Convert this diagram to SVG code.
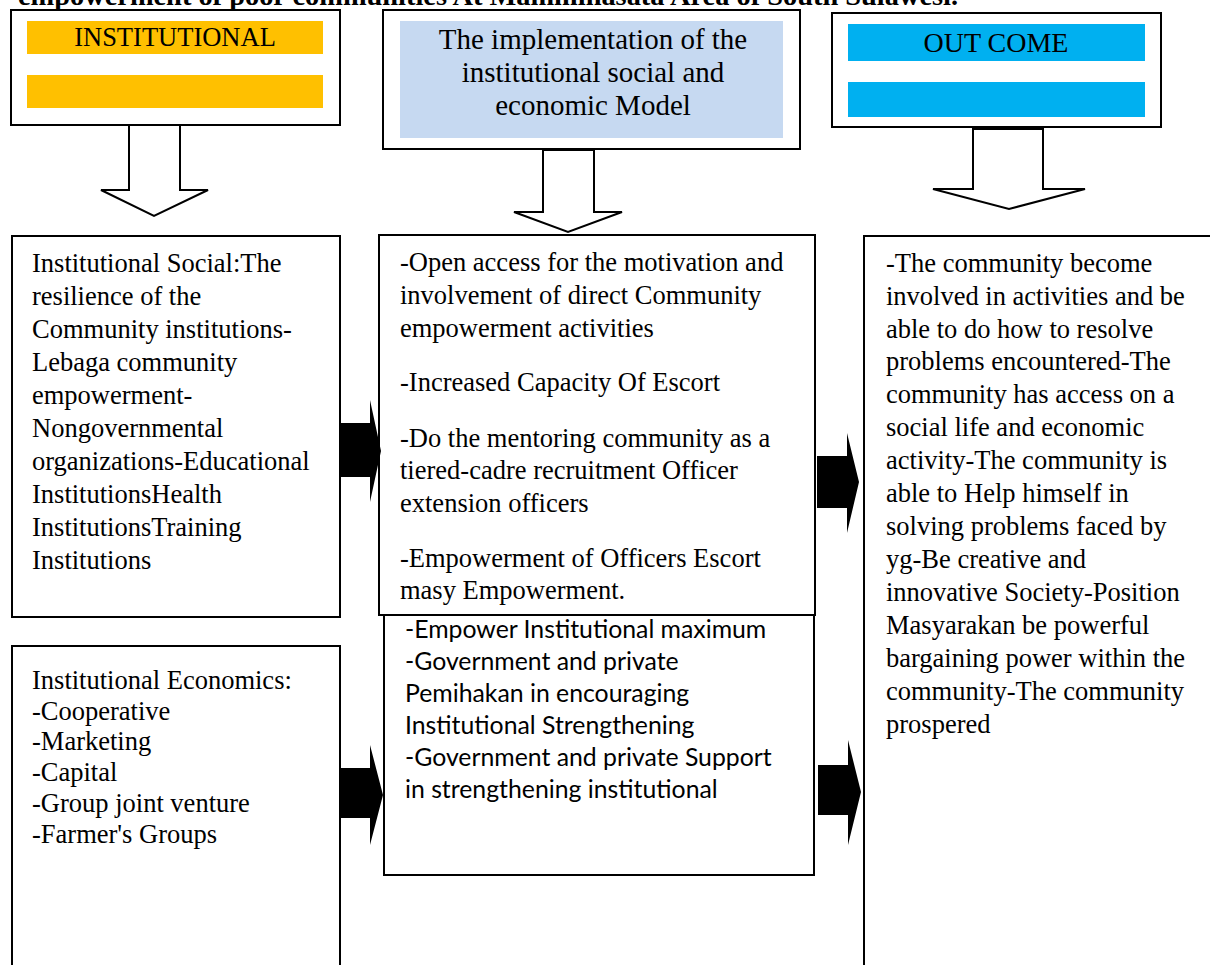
<svg xmlns="http://www.w3.org/2000/svg" width="1210" height="965" viewBox="0 0 1210 965">
<style>
.box{fill:#fff;stroke:#000;stroke-width:2}
.t{font-family:"Liberation Serif","Times New Roman",serif;font-size:26.5px;fill:#000}
.h{font-family:"Liberation Serif","Times New Roman",serif;font-size:29px;fill:#000;text-anchor:middle}
.c{font-family:Lato,"Open Sans",sans-serif;font-size:24.8px;fill:#000}
.hollow{fill:#fff;stroke:#000;stroke-width:2;stroke-linejoin:miter}
.solid{fill:#000;stroke:none}
</style>
<rect width="1210" height="965" fill="#fff"/>
<text x="18" y="5" font-family="'Liberation Serif','Times New Roman',serif" font-weight="bold" font-size="28" textLength="940" lengthAdjust="spacingAndGlyphs">empowerment of poor communities At Mamminasata Area of South Sulawesi.</text>

<g id="institutional">
<rect class="box" x="11" y="10" width="329" height="115"/>
<rect x="27" y="21" width="296" height="33" fill="#FFC000"/>
<rect x="27" y="75" width="296" height="33" fill="#FFC000"/>
<text class="h" x="175" y="46" style="font-size:26.5px">INSTITUTIONAL</text>
</g>

<g id="implementation">
<rect class="box" x="383" y="10" width="417" height="139"/>
<rect x="400" y="21" width="383" height="117" fill="#C6D9F1"/>
<text class="h" x="593" y="49">The implementation of the</text>
<text class="h" x="593" y="82">institutional social and</text>
<text class="h" x="593" y="115">economic Model</text>
</g>

<g id="outcome">
<rect class="box" x="832" y="13" width="329" height="114"/>
<rect x="848" y="24" width="297" height="37" fill="#00B0F0"/>
<rect x="848" y="82" width="297" height="35" fill="#00B0F0"/>
<text class="h" x="996" y="52" style="font-size:28px">OUT COME</text>
</g>

<g id="social">
<rect class="box" x="12" y="236" width="328" height="381"/>
<text class="t" x="32" y="272">Institutional Social:The</text>
<text class="t" x="32" y="305">resilience of the</text>
<text class="t" x="32" y="338">Community institutions-</text>
<text class="t" x="32" y="371">Lebaga community</text>
<text class="t" x="32" y="404">empowerment-</text>
<text class="t" x="32" y="437">Nongovernmental</text>
<text class="t" x="32" y="470">organizations-Educational</text>
<text class="t" x="32" y="503">InstitutionsHealth</text>
<text class="t" x="32" y="536">InstitutionsTraining</text>
<text class="t" x="32" y="569">Institutions</text>
</g>

<g id="economics">
<rect class="box" x="12" y="646" width="328" height="330"/>
<text class="t" x="32" y="689">Institutional Economics:</text>
<text class="t" x="32" y="720">-Cooperative</text>
<text class="t" x="32" y="750">-Marketing</text>
<text class="t" x="32" y="781">-Capital</text>
<text class="t" x="32" y="812">-Group joint venture</text>
<text class="t" x="32" y="843">-Farmer's Groups</text>
</g>

<g id="strengthening">
<rect class="box" x="384" y="600" width="430" height="275"/>
<text class="c" x="405" y="638">-Empower Institutional maximum</text>
<text class="c" x="405" y="670">-Government and private</text>
<text class="c" x="405" y="702">Pemihakan in encouraging</text>
<text class="c" x="405" y="734">Institutional Strengthening</text>
<text class="c" x="405" y="766">-Government and private Support</text>
<text class="c" x="405" y="798">in strengthening institutional</text>
</g>

<g id="activities">
<rect class="box" x="379" y="235" width="436" height="380"/>
<text class="t" x="400" y="271">-Open access for the motivation and</text>
<text class="t" x="400" y="304">involvement of direct Community</text>
<text class="t" x="400" y="337">empowerment activities</text>
<text class="t" x="400" y="391">-Increased Capacity Of Escort</text>
<text class="t" x="400" y="447">-Do the mentoring community as a</text>
<text class="t" x="400" y="479">tiered-cadre recruitment Officer</text>
<text class="t" x="400" y="512">extension officers</text>
<text class="t" x="400" y="567">-Empowerment of Officers Escort</text>
<text class="t" x="400" y="599">masy Empowerment.</text>
</g>

<g id="outcomes">
<rect class="box" x="864" y="236" width="360" height="740"/>
<text class="t" x="886" y="272">-The community become</text>
<text class="t" x="886" y="305">involved in activities and be</text>
<text class="t" x="886" y="338">able to do how to resolve</text>
<text class="t" x="886" y="370">problems encountered-The</text>
<text class="t" x="886" y="403">community has access on a</text>
<text class="t" x="886" y="436">social life and economic</text>
<text class="t" x="886" y="469">activity-The community is</text>
<text class="t" x="886" y="502">able to Help himself in</text>
<text class="t" x="886" y="535">solving problems faced by</text>
<text class="t" x="886" y="568">yg-Be creative and</text>
<text class="t" x="886" y="601">innovative Society-Position</text>
<text class="t" x="886" y="634">Masyarakan be powerful</text>
<text class="t" x="886" y="667">bargaining power within the</text>
<text class="t" x="886" y="700">community-The community</text>
<text class="t" x="886" y="733">prospered</text>
</g>

<g id="connectors">
<polygon class="hollow" points="129,125 180,125 180,190 208,190 154,216 101,190 129,190"/>
<polygon class="hollow" points="543,150 594,150 594,212 622,212 568,232 514,212 543,212"/>
<polygon class="hollow" points="973,129 1043,129 1043,189 1085,189 1009,209 933,189 973,189"/>
<polygon class="solid" points="340,423 370,423 370,400 381,451 370,502 370,477 340,477"/>
<polygon class="solid" points="340,768 370,768 370,745 383,795 370,845 370,818 340,818"/>
<polygon class="solid" points="817,456 847,456 847,433 859,482 847,533 847,508 817,508"/>
<polygon class="solid" points="818,765 848,765 848,740 861,792 848,845 848,815 818,815"/>
</g>
</svg>
